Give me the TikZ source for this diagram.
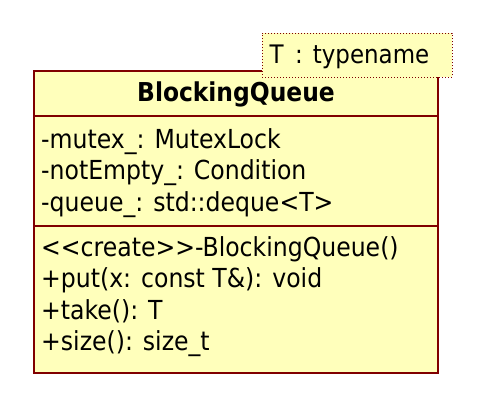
\documentclass[tikz,border=0pt]{standalone}
\usepackage{fontspec}
\setmainfont{DejaVu Sans Condensed}[BoldFont={DejaVu Sans Condensed Bold}]
\definecolor{umlfill}{HTML}{FFFFBB}
\definecolor{umlline}{HTML}{800000}
\begin{document}
\begin{tikzpicture}[x=1pt,y=-1pt,
  txt/.style={anchor=base west,inner sep=0pt,font=\fontsize{26.2}{30}\selectfont},
  tpltxt/.style={anchor=base west,inner sep=0pt,font=\fontsize{25.5}{30}\selectfont},
  ttl/.style={anchor=base,inner sep=0pt,font=\fontsize{26}{30}\selectfont\bfseries},
  classbox/.style={fill=umlfill,draw=umlline,line width=1.8pt},
  sepline/.style={draw=umlline,line width=1.8pt},
  tmplbox/.style={fill=umlfill,draw=umlline,line width=0.9pt,dash pattern=on 1pt off 2pt}]
\useasboundingbox (0,0) rectangle (488,405);
\node[classbox,rectangle,minimum width=404pt,minimum height=302pt,inner sep=0pt,anchor=north west] (cls) at (33,70) {};
\coordinate (s1l) at (33,116); \coordinate (s1r) at (437,116);
\coordinate (s2l) at (33,226); \coordinate (s2r) at (437,226);
\draw[sepline] (s1l) -- (s1r);
\draw[sepline] (s2l) -- (s2r);
\node[tmplbox,rectangle,minimum width=190pt,minimum height=44pt,inner sep=0pt,anchor=north west] (tpl) at (262,33) {};
\node[tpltxt] (tplt) at (269.5,63.5) {T\hspace{11.5pt}:\hspace{10pt}typename};
\node[ttl] (name) at (236,101) {BlockingQueue};
\node[txt] (a1) at (41,148) {-mutex\_: MutexLock};
\node[txt] (a2) at (41,179.5) {-notEmpty\_: Condition};
\node[txt] (a3) at (41,211) {-queue\_: std::deque<T>};
\node[txt] (m1) at (41,256.5) {{<}{<}create{>}{>}-BlockingQueue()};
\node[txt] (m2) at (41,287.5) {+put(x: const T\&): void};
\node[txt] (m3) at (41,319) {+take(): T};
\node[txt] (m4) at (41,350) {+size(): size\_t};
\end{tikzpicture}
\end{document}
